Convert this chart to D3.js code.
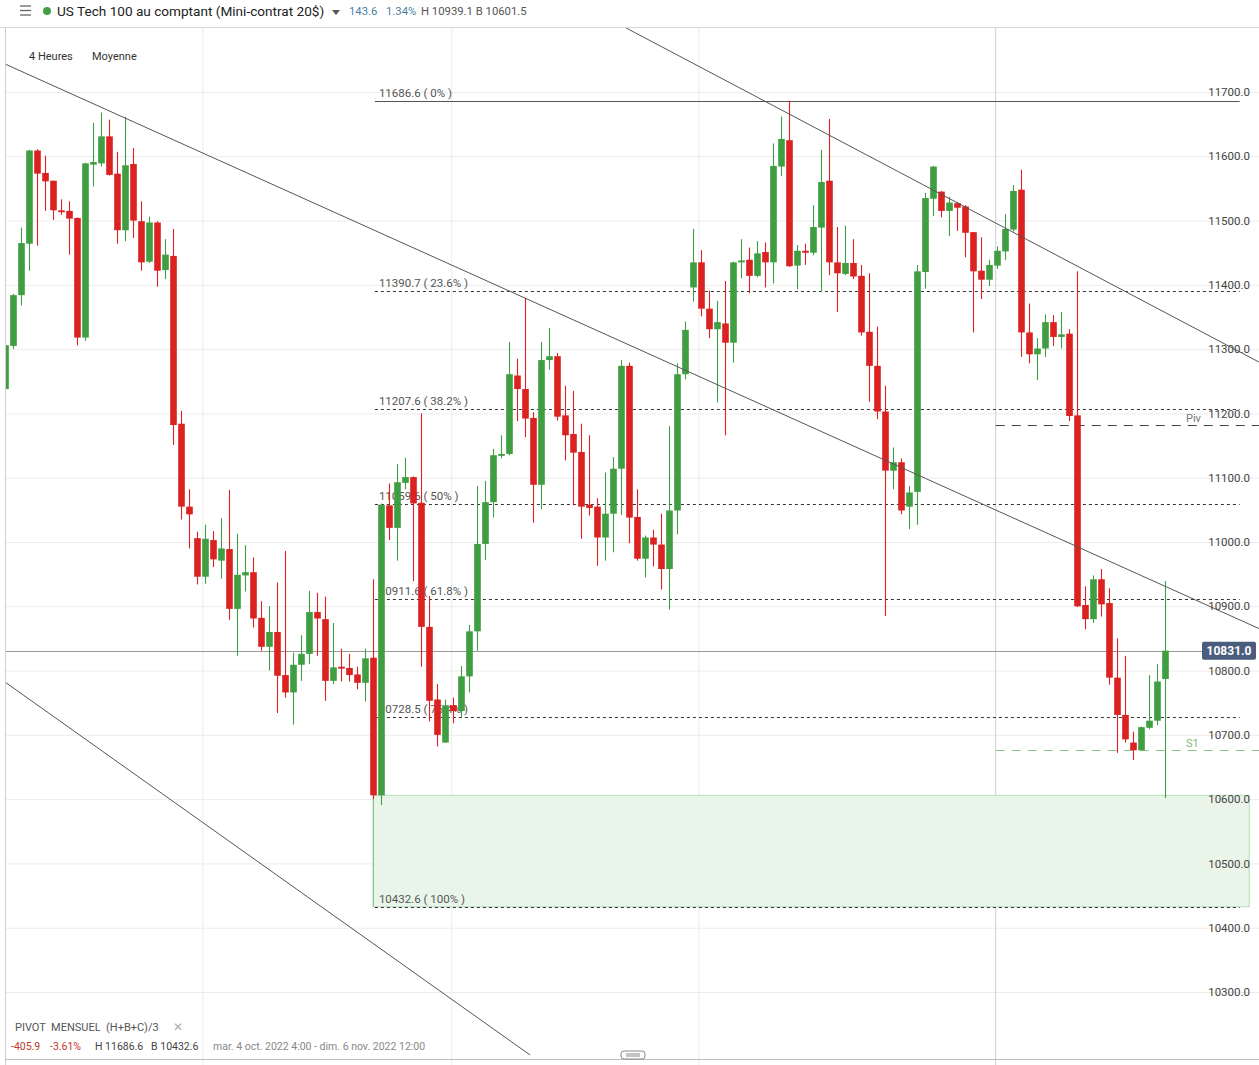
<!DOCTYPE html>
<html><head><meta charset="utf-8">
<script src="https://cdn.jsdelivr.net/npm/d3@7"></script>
<style>
html,body{margin:0;padding:0;background:#fff;}
svg{display:block;font-family:Roboto,"Liberation Sans",Arial,sans-serif;}
svg text{white-space:pre;}
</style></head>
<body><svg id="c" width="1259" height="1065"></svg>
<script>
// ---- data (4h candles, US Tech 100) ----
const opens = [11238,11305,11384,11464,11609,11574,11562,11516,11515,11504,11318,11587,11589,11631,11573,11485,11588,11499,11436,11497,
11423,11445,11184,11055,11006,10946,11003,10971,10989,10896,10948,10953,10882,10837,10860,10793,10766,10809,10826,10891,
10880,10784,10806,10804,10794,10781,10820,10606,11057,11022,11092,11101,11061,10868,10755,10688,10746,10737,10791,10861,
10997,11062,11134,11137,11259,11238,11193,11089,11283,11289,11197,11168,11140,11058,11055,11007,11044,11114,11274,11039,
10974,11007,10996,10958,11049,11261,11396,11435,11363,11331,11340,11310,11435,11439,11414,11451,11435,11584,11625,11430,
11453,11450,11489,11562,11435,11417,11434,11414,11327,11274,11203,11111,11124,11055,11078,11420,11534,11545,11515,11527,
11522,11482,11422,11408,11430,11452,11486,11548,11326,11292,11301,11342,11319,11324,11197,10902,10880,10942,10905,10789,
10731,10688,10676,10711,10722,10787];
const highs = [11306,11386,11489,11610,11611,11601,11562,11533,11530,11505,11590,11652,11668,11657,11607,11661,11613,11530,11506,11499,
11471,11487,11204,11082,11016,11027,11017,11037,11081,11013,10995,10976,10908,10900,10937,10986,10828,10855,10924,10921,
10915,10874,10834,10826,10806,10834,10942,11060,11091,11121,11131,11102,11200,10916,10779,10755,10758,10807,10871,11087,
11095,11145,11166,11311,11285,11380,11202,11311,11333,11294,11243,11235,11184,11166,11068,11108,11132,11283,11279,11082,
11010,11019,11044,11180,11278,11343,11487,11454,11391,11375,11406,11436,11471,11458,11468,11466,11620,11662,11686.6,11462,
11464,11524,11610,11658,11490,11492,11471,11431,11418,11335,11243,11147,11130,11087,11431,11543,11585,11546,11537,11529,
11524,11482,11474,11439,11460,11510,11555,11579,11371,11317,11354,11353,11358,11331,11421,10931,10948,10958,10928,10850,
10823,10705,10713,10793,10810,10939.1];
const lows = [11236,11300,11368,11422,11461,11515,11501,11509,11447,11306,11313,11553,11584,11570,11464,11468,11473,11422,11434,11397,
11409,11151,11035,10990,10934,10935,10961,10943,10879,10823,10923,10867,10831,10800,10734,10758,10716,10784,10810,10823,
10753,10779,10783,10783,10771,10752,10600,10591,11003,10971,11082,10939,10806,10721,10682,10688,10718,10727,10766,10831,
10972,11038,11130,11135,11188,11163,11030,11051,11268,11189,11127,11057,11005,11041,10963,10971,10984,11042,10998,10971,
10945,10962,10926,10895,11012,11253,11374,11351,11317,11217,11166,11279,11410,11387,11412,11396,11402,11569,11428,11393,
11431,11446,11389,11415,11358,11415,11409,11321,11218,11191,10885,11082,11043,11020,11027,11394,11507,11505,11476,11484,
11443,11326,11378,11398,11425,11439,11483,11288,11278,11252,11288,11305,11301,11188,10899,10864,10874,10884,10778,10672,
10688,10661,10676,10709,10715,10601.5];
const closes = [11306,11384,11465,11609,11573,11561,11516,11513,11503,11318,11589,11591,11631,11571,11485,11586,11500,11435,11497,11422,
11447,11182,11055,11043,10946,11005,10973,10990,10896,10949,10953,10881,10837,10860,10792,10766,10809,10826,10891,10881,
10784,10805,10803,10793,10781,10819,10606,11058,11022,11093,11101,11060,10868,10753,10700,10746,10737,10791,10861,10997,
11062,11135,11137,11261,11238,11192,11089,11283,11289,11195,11166,11139,11055,11053,11007,11044,11114,11274,11038,10974,
11007,10996,10958,11049,11261,11330,11435,11363,11331,11342,11310,11435,11438,11414,11449,11435,11585,11627,11429,11453,
11450,11490,11560,11435,11418,11434,11413,11326,11274,11203,11111,11124,11049,11077,11421,11535,11584,11515,11528,11520,
11481,11421,11408,11431,11453,11487,11546,11326,11292,11301,11342,11319,11323,11196,10900,10880,10942,10903,10789,10731,
10693,10676,10712,10722,10783,10831];

const priceTicks = [10300,10400,10500,10600,10700,10800,10900,11000,11100,11200,11300,11400,11500,11600,11700];
const fibLevels = [11686.6,11390.7,11207.6,11059.6,10911.6,10728.5,10432.6];
const fibPcts = ["0%","23.6%","38.2%","50%","61.8%","76.4%","100%"];
const fibZone = [10432.6,10606];
const pivotLevels = [11182,10676];
const pivotNames = ["Piv","S1"];
const lastPrice = 10831;
// trendlines as [candle index, price] pairs
const trendLines = [
  [[-0.04,11743.6],[156.7,10865.4]],
  [[77.6,11799.6],[156.7,11280]],
  [[-0.04,10782.2],[65.6,10202]]
];
const weekIdx = [24.7,55.8,86.7];
const monthIdx = 123.8;

// ---- scales ----
const x = d3.scaleLinear().domain([0,145]).range([5.3,1165.3]);
const y = d3.scaleLinear().domain([10300,11700]).range([992,92]);
const svg = d3.select("#c");
const W = 1259, TOP = 28, BOT = 1059, LEFT = 5;

const GREEN = "#3f9e41", RED = "#dc2121";

svg.append("defs").append("clipPath").attr("id","plot")
  .append("rect").attr("x",LEFT).attr("y",TOP).attr("width",W-LEFT).attr("height",BOT-TOP);

// horizontal grid
const grid = svg.append("g").attr("transform",`translate(${W},0)`)
  .call(d3.axisLeft(y).tickValues(priceTicks).tickSize(W-LEFT).tickFormat(""));
grid.select(".domain").remove();
grid.selectAll("line").attr("stroke","#ececec");

// vertical grid
svg.append("g").selectAll("line").data(weekIdx).join("line")
  .attr("x1",d=>x(d)).attr("x2",d=>x(d)).attr("y1",TOP).attr("y2",1065)
  .attr("stroke","#ececec");
svg.append("line").attr("x1",x(monthIdx)).attr("x2",x(monthIdx)).attr("y1",TOP).attr("y2",1065)
  .attr("stroke","#cfcfcf");

// fib zone
svg.append("rect").attr("x",x(46)).attr("width",x(155.5)-x(46))
  .attr("y",y(fibZone[1])).attr("height",y(fibZone[0])-y(fibZone[1]))
  .attr("fill","#eaf5ea").attr("stroke","#b9dcb9").attr("stroke-width",1);
svg.append("line").attr("x1",x(46)).attr("x2",x(46)).attr("y1",y(fibZone[1])).attr("y2",y(fibZone[0]))
  .attr("stroke","#7fbf7f");

// fib lines
const fg = svg.append("g");
fg.selectAll("line").data(fibLevels).join("line")
  .attr("x1",x(46.2)).attr("x2",x(154.3))
  .attr("y1",d=>Math.round(y(d))+0.5).attr("y2",d=>Math.round(y(d))+0.5)
  .attr("stroke",(d,i)=>i===0?"#555":"#333")
  .attr("stroke-dasharray",(d,i)=>i===0?null:"3,3");
fg.selectAll("text").data(fibLevels).join("text")
  .attr("x",x(46.7)).attr("y",d=>y(d)-4)
  .attr("font-size",11.5).attr("fill","#555")
  .text((d,i)=>`${d.toFixed(1)} ( ${fibPcts[i]} )`);

// pivot lines
const pg = svg.append("g");
pg.selectAll("line").data(pivotLevels).join("line")
  .attr("x1",x(monthIdx)).attr("x2",W)
  .attr("y1",d=>Math.round(y(d))+0.5).attr("y2",d=>Math.round(y(d))+0.5)
  .attr("stroke",(d,i)=>i===0?"#444":"#8cc08c")
  .attr("stroke-dasharray","9,7");
pg.selectAll("text").data(pivotLevels).join("text")
  .attr("x",1186).attr("y",d=>y(d)-3)
  .attr("font-size",11).attr("fill",(d,i)=>i===0?"#777":"#7db87d")
  .text((d,i)=>pivotNames[i]);

// last price line
svg.append("line").attr("x1",LEFT).attr("x2",1202)
  .attr("y1",Math.round(y(lastPrice))+0.5).attr("y2",Math.round(y(lastPrice))+0.5)
  .attr("stroke","#9a9a9a");

// candles
const cg = svg.append("g").attr("clip-path","url(#plot)");
const idx = d3.range(opens.length);
cg.selectAll("line.w").data(idx).join("line").attr("class","w")
  .attr("x1",i=>Math.round(x(i))+0.5).attr("x2",i=>Math.round(x(i))+0.5)
  .attr("y1",i=>y(highs[i])).attr("y2",i=>y(lows[i]))
  .attr("stroke",i=>closes[i]>=opens[i]?GREEN:RED).attr("stroke-width",1.1);
cg.selectAll("rect.b").data(idx).join("rect").attr("class","b")
  .attr("x",i=>Math.round(x(i))+0.5-3.3).attr("width",6.6)
  .attr("y",i=>y(Math.max(opens[i],closes[i])))
  .attr("height",i=>Math.max(1.5,Math.abs(y(opens[i])-y(closes[i]))))
  .attr("fill",i=>closes[i]>=opens[i]?GREEN:RED);

// trendlines
svg.append("g").attr("clip-path","url(#plot)").selectAll("line").data(trendLines).join("line")
  .attr("x1",d=>x(d[0][0])).attr("y1",d=>y(d[0][1]))
  .attr("x2",d=>x(d[1][0])).attr("y2",d=>y(d[1][1]))
  .attr("stroke","#555").attr("stroke-width",1);

// right price axis
const ax = svg.append("g").attr("transform","translate(1250,0)")
  .call(d3.axisLeft(y).tickValues(priceTicks).tickSize(0).tickPadding(0).tickFormat(d3.format(".1f")));
ax.select(".domain").remove();
ax.selectAll("text").attr("font-size",11.5).attr("fill","#444").attr("font-family","Roboto,Arial,sans-serif");

// last price tag
svg.append("rect").attr("x",1202).attr("y",y(lastPrice)-9).attr("width",54).attr("height",18)
  .attr("rx",2).attr("fill","#4a5d7c");
svg.append("text").attr("x",1229).attr("y",y(lastPrice)+4.5).attr("text-anchor","middle")
  .attr("font-size",12).attr("font-weight","bold").attr("fill","#fff").text(d3.format(".1f")(lastPrice));

// frame lines
svg.append("line").attr("x1",0).attr("x2",W).attr("y1",TOP-0.5).attr("y2",TOP-0.5).attr("stroke","#d6d6d6");
svg.append("line").attr("x1",LEFT+0.5).attr("x2",LEFT+0.5).attr("y1",TOP).attr("y2",1065).attr("stroke","#cfcfcf");
svg.append("line").attr("x1",LEFT).attr("x2",W).attr("y1",BOT+0.5).attr("y2",BOT+0.5).attr("stroke","#bdbdbd");
svg.append("rect").attr("x",621).attr("y",1051).attr("width",24).attr("height",8).attr("rx",3)
  .attr("fill","#fff").attr("stroke","#888");
[1054,1056].forEach(yy=>svg.append("line").attr("x1",626).attr("x2",640).attr("y1",yy).attr("y2",yy).attr("stroke","#888"));

// header
const hb = svg.append("g");
[6,10.5,15].forEach(yy=>hb.append("line").attr("x1",20).attr("x2",31).attr("y1",yy).attr("y2",yy).attr("stroke","#666").attr("stroke-width",1.3));
hb.append("circle").attr("cx",47).attr("cy",11).attr("r",4).attr("fill","#43a047");
hb.append("text").attr("x",57).attr("y",16).attr("font-size",13.6).attr("fill","#222")
  .text("US Tech 100 au comptant (Mini-contrat 20$)");
hb.append("path").attr("d","M332,10 L340,10 L336,15 Z").attr("fill","#555");
hb.append("text").attr("x",349).attr("y",15).attr("font-size",11.3).attr("fill","#4d7f9f").text("143.6");
hb.append("text").attr("x",386).attr("y",15).attr("font-size",11.3).attr("fill","#4d7f9f").text("1.34%");
hb.append("text").attr("x",421).attr("y",15).attr("font-size",11.3).attr("fill","#555").text("H 10939.1 B 10601.5");

svg.append("text").attr("x",29).attr("y",60).attr("font-size",11).attr("fill","#333").text("4 Heures");
svg.append("text").attr("x",92).attr("y",60).attr("font-size",11).attr("fill","#333").text("Moyenne");

// footer legend
svg.append("text").attr("x",15).attr("y",1031).attr("font-size",11).attr("fill","#555")
  .text("PIVOT  MENSUEL  (H+B+C)/3");
svg.append("text").attr("x",173).attr("y",1031).attr("font-size",12).attr("fill","#aaa").text("✕");
svg.append("text").attr("x",11).attr("y",1050).attr("font-size",10.5).attr("fill","#c0392b").text("-405.9");
svg.append("text").attr("x",50).attr("y",1050).attr("font-size",10.5).attr("fill","#c0392b").text("-3.61%");
svg.append("text").attr("x",95).attr("y",1050).attr("font-size",10.5).attr("fill","#444").text("H 11686.6   B 10432.6");
svg.append("text").attr("x",213).attr("y",1050).attr("font-size",10.5).attr("fill","#888")
  .text("mar. 4 oct. 2022 4:00 - dim. 6 nov. 2022 12:00");
</script></body></html>
